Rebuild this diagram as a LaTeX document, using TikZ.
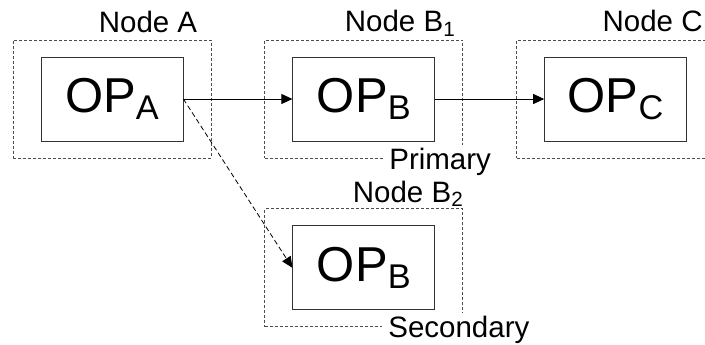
\documentclass[tikz,border=0pt]{standalone}
\usepackage{fontspec}
\setmainfont{Liberation Sans}
\usepackage{graphicx}
\usepackage{tikz}
\usetikzlibrary{arrows.meta,positioning}

\newcommand{\lowidx}[1]{\raisebox{-0.15em}{\scalebox{0.7}{#1}}}

\begin{document}
\begin{tikzpicture}[
    node distance=109pt,
    opbox/.style={rectangle, draw=black!80, line width=0.8pt, minimum width=142pt, minimum height=84pt, font=\fontsize{49}{52}\selectfont},
    frame/.style={rectangle, draw=black!70, line width=0.7pt, dash pattern=on 3pt off 2pt, minimum width=198pt, minimum height=118pt},
    lbl/.style={font=\fontsize{29.5}{32}\selectfont, inner sep=0pt, anchor=base},
    role/.style={font=\fontsize{29.5}{32}\selectfont, fill=white, inner xsep=6pt, inner ysep=3pt, anchor=base west},
    arrow/.style={->, line width=0.8pt, >={Triangle[length=11pt,width=10pt]}}
]

\useasboundingbox (0,0) rectangle (705pt,-345pt);
\clip (0,0) rectangle (705pt,-345pt);

% Operators
\node[opbox] (opA) at (112pt,-99pt) {OP\lowidx{A}};
\node[opbox, right=of opA] (opB1) {OP\lowidx{B}};
\node[opbox, right=of opB1] (opC) {OP\lowidx{C}};
\node[opbox, below=84pt of opB1] (opB2) {OP\lowidx{B}};

% Node frames (dashed)
\node[frame] (frmA) at (opA) {};
\node[frame] (frmB1) at (opB1) {};
\node[frame] (frmC) at (opC) {};
\node[frame] (frmB2) at (opB2) {};

% Frame titles
\node[lbl] (lblA) at ([xshift=36pt,yshift=7pt]frmA.north) {Node A};
\node[lbl] (lblB1) at ([xshift=36pt,yshift=8pt]frmB1.north) {Node B\lowidx{1}};
\node[lbl] (lblC) at ([xshift=37pt,yshift=8pt]frmC.north) {Node C};
\node[lbl] (lblB2) at ([xshift=44pt,yshift=6pt]frmB2.north) {Node B\lowidx{2}};

% Flow arrows
\draw[arrow] (opA.east) -- (opB1.west);
\draw[arrow] (opB1.east) -- (opC.west);
\draw[arrow, dash pattern=on 5pt off 3pt] (opA.east) -- (opB2.west);

% Roles
\node[role] (prim) at ([xshift=-80pt,yshift=-11pt]frmB1.south east) {Primary};
\node[role] (sec) at ([xshift=-81pt,yshift=-10pt]frmB2.south east) {Secondary};

\end{tikzpicture}
\end{document}
